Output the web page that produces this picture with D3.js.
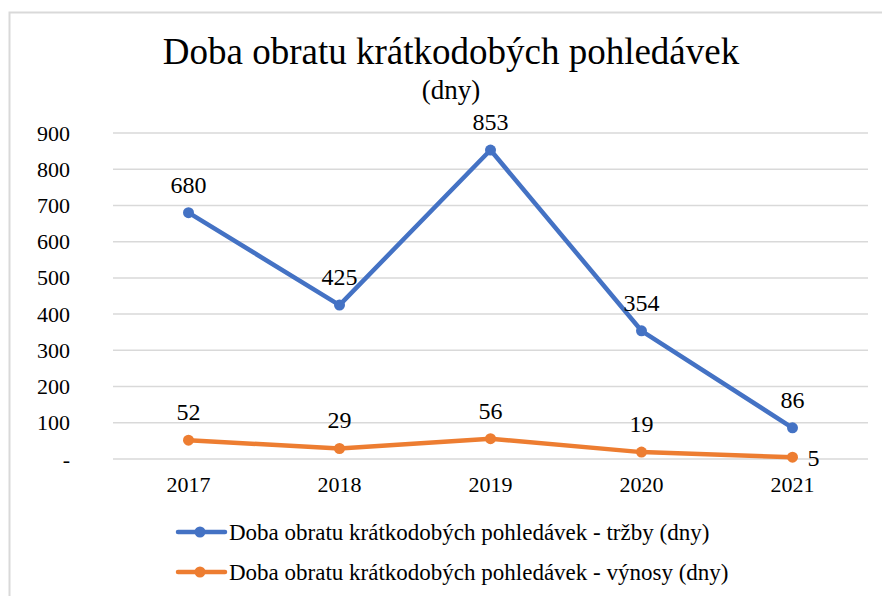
<!DOCTYPE html>
<html>
<head>
<meta charset="utf-8">
<script src="https://cdn.jsdelivr.net/npm/d3@7"></script>
<style>
  body { margin: 0; background: #fff; }
  svg text, svg g text, text { font-family: 'Liberation Serif' !important; }
</style>
</head>
<body>
<div id="chart"></div>
<script>
// data
let years = ["2017", "2018", "2019", "2020", "2021"];
let trzby = [680, 425, 853, 354, 86];
let vynosy = [52, 29, 56, 19, 5];
let yTicks = [0, 100, 200, 300, 400, 500, 600, 700, 800, 900];
let seriesNames = [
  "Doba obratu krátkodobých pohledávek - tržby (dny)",
  "Doba obratu krátkodobých pohledávek - výnosy (dny)"
];
let colors = ["#4472c4", "#ed7d31"];

let fam = "'Liberation Serif'";
let width = 882, height = 596;
let margin = {top: 133, right: 14, bottom: 137, left: 113};

let svg = d3.select("#chart")
  .append("svg")
    .attr("width", width)
    .attr("height", height);

// chart frame
svg.append("rect")
  .attr("x", 9.5).attr("y", 12.5)
  .attr("width", 890).attr("height", 600)
  .attr("fill", "none")
  .attr("stroke", "#d9d9d9")
  .attr("stroke-width", 2);

let x = d3.scaleBand()
  .domain(years)
  .range([margin.left, width - margin.right]);

let y = d3.scaleLinear()
  .domain([0, 900])
  .range([height - margin.bottom, margin.top]);

// gridlines
svg.append("g")
  .selectAll("line")
  .data(yTicks)
  .enter()
  .append("line")
    .attr("x1", margin.left)
    .attr("x2", width - margin.right)
    .attr("y1", d => y(d))
    .attr("y2", d => y(d))
    .attr("stroke", "#d9d9d9")
    .attr("stroke-width", 1.5);

// y axis labels
let yAxis = d3.axisLeft(y)
  .tickValues(yTicks)
  .tickSize(0)
  .tickPadding(43)
  .tickFormat(d => d === 0 ? "-" : d);
let yg = svg.append("g")
  .attr("transform", "translate(" + margin.left + ",0)")
  .call(yAxis);
yg.attr("font-family", null).attr("font-size", null);
yg.select(".domain").remove();
yg.selectAll("text")
  .style("font-family", fam)
  .attr("font-size", "22px")
  .attr("fill", "#000");

// x axis labels
let xAxis = d3.axisBottom(x).tickSize(0).tickPadding(17);
let xg = svg.append("g")
  .attr("transform", "translate(0," + y(0) + ")")
  .call(xAxis);
xg.attr("font-family", null).attr("font-size", null);
xg.select(".domain").remove();
xg.selectAll("text")
  .style("font-family", fam)
  .attr("font-size", "22px")
  .attr("fill", "#000");

// title
svg.append("text")
  .attr("x", 451).attr("y", 64)
  .attr("text-anchor", "middle")
  .style("font-family", fam)
  .attr("font-size", "37px")
  .text("Doba obratu krátkodobých pohledávek");
svg.append("text")
  .attr("x", 451).attr("y", 99)
  .attr("text-anchor", "middle")
  .style("font-family", fam)
  .attr("font-size", "27px")
  .text("(dny)");

let line = d3.line()
  .x((d, i) => x(years[i]) + x.bandwidth() / 2)
  .y(d => y(d));

[trzby, vynosy].forEach(function(values, s) {
  svg.append("path")
    .datum(values)
    .attr("d", line)
    .attr("fill", "none")
    .attr("stroke", colors[s])
    .attr("stroke-width", 4.5)
    .attr("stroke-linejoin", "round")
    .attr("stroke-linecap", "round");

  svg.append("g")
    .selectAll("circle")
    .data(values)
    .enter()
    .append("circle")
      .attr("cx", (d, i) => x(years[i]) + x.bandwidth() / 2)
      .attr("cy", d => y(d))
      .attr("r", 5.5)
      .attr("fill", colors[s]);

  // data labels: above the point, last orange one to the right
  svg.append("g")
    .selectAll("text")
    .data(values)
    .enter()
    .append("text")
      .attr("x", function(d, i) {
        let cx = x(years[i]) + x.bandwidth() / 2;
        return (s === 1 && i === values.length - 1) ? cx + 15 : cx;
      })
      .attr("y", function(d, i) {
        return (s === 1 && i === values.length - 1) ? y(d) + 9 : y(d) - 20;
      })
      .attr("text-anchor", (d, i) => (s === 1 && i === values.length - 1) ? "start" : "middle")
      .style("font-family", fam)
      .attr("font-size", "24px")
      .text(d => d);
});

// legend
let legend = svg.append("g")
  .selectAll("g")
  .data(seriesNames)
  .enter()
  .append("g")
    .attr("transform", (d, i) => "translate(178," + (532 + i * 40) + ")");
legend.append("line")
  .attr("x1", 0).attr("x2", 47)
  .attr("stroke", (d, i) => colors[i])
  .attr("stroke-width", 4.5)
  .attr("stroke-linecap", "round");
legend.append("circle")
  .attr("cx", 22).attr("r", 5.5)
  .attr("fill", (d, i) => colors[i]);
legend.append("text")
  .attr("x", 51).attr("y", 8)
  .style("font-family", fam)
  .attr("font-size", "23px")
  .text(d => d);
</script>
</body>
</html>
